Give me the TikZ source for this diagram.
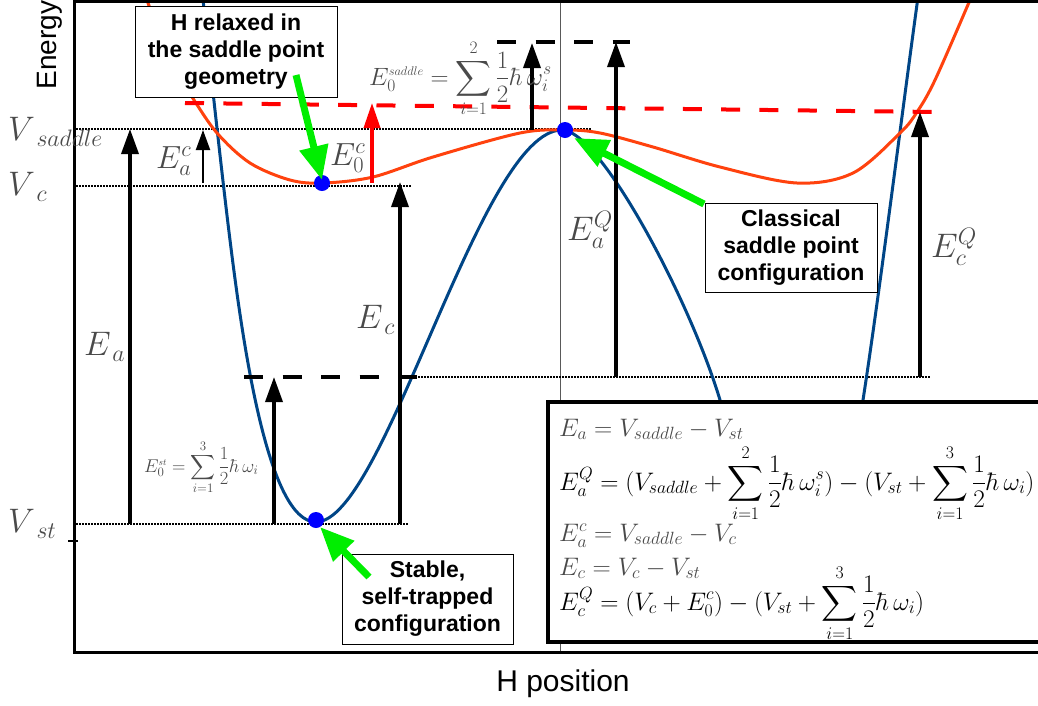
\RequirePackage{fix-cm}
\documentclass[tikz,border=0pt]{standalone}
\usepackage{amsmath}
\usepackage{fontspec}
\setsansfont{Liberation Sans}
\usetikzlibrary{arrows.meta}
\definecolor{cblue}{HTML}{004586}
\definecolor{corange}{HTML}{FF420E}
\definecolor{cgreen}{HTML}{00EE00}
\definecolor{cgray}{HTML}{4A4A4A}
\newcommand{\lowsub}[2]{#1\kern1.5pt\lower6pt\hbox{$\scriptstyle #2$}}
\begin{document}
\begin{tikzpicture}[x=1pt,y=-1pt,
  frame/.style={line width=3pt},
  dotl/.style={line width=1.4pt, dash pattern=on 1.5pt off 1.5pt},
  bdash/.style={line width=4pt, dash pattern=on 19pt off 19.5pt},
  rdash/.style={line width=4pt, red, dash pattern=on 19pt off 19.3pt},
  bigarr/.style={line width=3.5pt, -{Triangle[width=17pt,length=25pt]}},
  smallarr/.style={line width=2pt, -{Triangle[width=14pt,length=20pt]}},
  redarr/.style={line width=3.5pt, red, -{Triangle[width=16pt,length=25pt]}},
  garr/.style={line width=7pt, cgreen, -{Triangle[width=28pt,length=34pt]}},
  bdot/.style={circle, fill=blue, inner sep=0pt, minimum size=16pt},
  tbox/.style={draw, fill=white, line width=1pt, align=center, inner sep=0pt,
    font=\sffamily\bfseries\fontsize{23}{27}\selectfont},
  lab/.style={text=cgray, inner sep=0pt, anchor=base west, font=\fontsize{34}{40}\selectfont},
  eq/.style={inner sep=0pt, anchor=base west, font=\fontsize{25.3}{30}\selectfont},
  curve/.style={line width=3pt, line join=round},
]
\useasboundingbox (0,0) rectangle (1038,705);

% thin vertical line
\coordinate (vt) at (560,0);
\coordinate (vb) at (560,652);
\draw[gray!70!black, line width=1pt] (vt) -- (vb);

% dotted levels
\coordinate (ds0) at (76,129);  \coordinate (ds1) at (592,129);
\coordinate (dc0) at (76,186);  \coordinate (dc1) at (412,186);
\coordinate (dst0) at (76,524); \coordinate (dst1) at (408,524);
\coordinate (dq0) at (418,377); \coordinate (dq1) at (930,377);
\draw[dotl] (ds0) -- (ds1);
\draw[dotl] (dc0) -- (dc1);
\draw[dotl] (dst0) -- (dst1);
\draw[dotl] (dq0) -- (dq1);

% curves
\draw[curve, cblue] (201,-20) .. controls (203,0) and (220,160) .. (230,240)
  .. controls (243,345) and (268,522) .. (316,522)
  .. controls (385,522) and (480,130) .. (562,130)
  .. controls (600,130) and (690,300) .. (720,400)
  .. controls (745,483) and (770,600) .. (800,600)
  .. controls (830,600) and (850,480) .. (863,400)
  .. controls (880,290) and (905,90) .. (919,-10);
\draw[curve, corange] plot[smooth, tension=0.55] coordinates {
 (141,-20) (147,0) (157,27) (173,67) (192,97) (217,133) (250,163) (290,180)
 (323,183) (373,177) (433,157) (520,133) (565,130) (600,133) (653,147)
 (720,167) (797,183) (853,173) (900,133) (917,112) (935,80) (970,0) (978,-20)};

% dashed levels
\coordinate (rd0) at (185,103); \coordinate (rd1) at (935,112);
\draw[rdash] (rd0) -- (rd1);
\coordinate (bu0) at (497,42); \coordinate (bu1) at (630,42);
\draw[bdash] (bu0) -- (bu1);
\coordinate (bl0) at (244,377); \coordinate (bl1) at (417,377);
\draw[bdash] (bl0) -- (bl1);

% arrows
\coordinate (a1s) at (130,524); \coordinate (a1e) at (130,129);
\coordinate (a2s) at (203,183); \coordinate (a2e) at (203,130);
\coordinate (a3s) at (372,183); \coordinate (a3e) at (372,103);
\coordinate (a4s) at (400,524); \coordinate (a4e) at (400,182);
\coordinate (a5s) at (274,524); \coordinate (a5e) at (274,377);
\coordinate (a6s) at (532,130); \coordinate (a6e) at (532,43);
\coordinate (a7s) at (616,377); \coordinate (a7e) at (616,42);
\coordinate (a8s) at (920,377); \coordinate (a8e) at (920,112);
\draw[bigarr] (a1s) -- (a1e);
\draw[smallarr] (a2s) -- (a2e);
\draw[redarr] (a3s) -- (a3e);
\draw[bigarr] (a4s) -- (a4e);
\draw[bigarr] (a5s) -- (a5e);
\draw[bigarr] (a6s) -- (a6e);
\draw[bigarr] (a7s) -- (a7e);
\draw[bigarr] (a8s) -- (a8e);

% frame
\coordinate (f1) at (1045,1.5); \coordinate (f2) at (74,1.5);
\coordinate (f3) at (74,652);   \coordinate (f4) at (1045,652);
\draw[frame] (f1) -- (f2) -- (f3) -- (f4);
\coordinate (tk0) at (68,541); \coordinate (tk1) at (78,541);
\draw[line width=1.5pt] (tk0) -- (tk1);

% equation box
\node (eqbox) [draw, fill=white, line width=3.5pt, anchor=north west,
  minimum width=520pt, minimum height=240pt, inner sep=0pt] at (546,400) {};
\node[eq, text=cgray] (eq1) at (559,436) {$E_a = V_{saddle} - V_{st}$};
\node[eq] (eq2) at (559,490) {$\displaystyle E_a^Q = (V_{saddle} + \sum_{i=1}^{2}\frac{1}{2}\hbar\,\omega_i^s) - (V_{st} + \sum_{i=1}^{3}\frac{1}{2}\hbar\,\omega_i)$};
\node[eq, text=cgray] (eq3) at (559,541) {$E_a^c = V_{saddle} - V_c$};
\node[eq, text=cgray] (eq4) at (559,575) {$E_c = V_c - V_{st}$};
\node[eq] (eq5) at (559,610) {$\displaystyle E_c^Q = (V_c + E_0^c) - (V_{st} + \sum_{i=1}^{3}\frac{1}{2}\hbar\,\omega_i)$};

% blue dots
\node[bdot] (p1) at (322,183) {};
\node[bdot] (p2) at (565,130) {};
\node[bdot] (p3) at (316,520) {};

% labels
\node[lab] (lvs) at (8,140) {$\lowsub{V}{saddle}$};
\node[lab] (lvc) at (8,195) {$\lowsub{V}{c}$};
\node[lab] (lvst) at (8,532) {$\lowsub{V}{st}$};
\node[lab] (lea) at (84,355) {$\lowsub{E}{a}$};
\node[lab] (lec) at (356,328) {$\lowsub{E}{c}$};
\node[lab, font=\fontsize{32}{38}\selectfont] (leac) at (156,168) {$E_a^c$};
\node[lab, font=\fontsize{32}{38}\selectfont] (le0c) at (330,165) {$E_0^c$};
\node[lab] (leaq) at (567,240) {$E_a^Q$};
\node[lab] (lecq) at (931,257) {$E_c^Q$};
\node[inner sep=0pt, anchor=base west, text=cgray, font=\fontsize{25}{28}\selectfont] (fsad) at (369,85)
  {$E_0^{\scriptscriptstyle saddle} = \displaystyle\sum_{i=1}^{2}\frac{1}{2}\hbar\,\omega_i^s$};
\node[inner sep=0pt, anchor=base west, text=cgray, font=\fontsize{18.5}{22}\selectfont] (fst) at (144,472)
  {$E_0^{\scriptscriptstyle st} = \displaystyle\sum_{i=1}^{3}\frac{1}{2}\hbar\,\omega_i$};

% axis titles
\node[rotate=90, font=\sffamily\fontsize{28}{32}\selectfont, inner sep=0pt] (ytitle) at (50,45) {Energy};
\node[font=\sffamily\fontsize{30}{34}\selectfont, inner sep=0pt] (xtitle) at (563,684) {H position};

% text boxes
\node[tbox, minimum width=202pt, minimum height=91pt] (b1) at (236,51.5) {H relaxed in\\the saddle point\\geometry};
\node[tbox, minimum width=172pt, minimum height=89pt] (b2) at (791,247.5) {Classical\\saddle point\\configuration};
\node[tbox, minimum width=171pt, minimum height=90pt] (b3) at (427.5,599) {Stable,\\self-trapped\\configuration};

% green arrows
\coordinate (g1s) at (296,75);  \coordinate (g1e) at (322,180);
\coordinate (g2s) at (704,204); \coordinate (g2e) at (574,138);
\coordinate (g3s) at (369,577); \coordinate (g3e) at (320,527);
\draw[garr] (g1s) -- (g1e);
\draw[garr] (g2s) -- (g2e);
\draw[garr] (g3s) -- (g3e);
\end{tikzpicture}
\end{document}
